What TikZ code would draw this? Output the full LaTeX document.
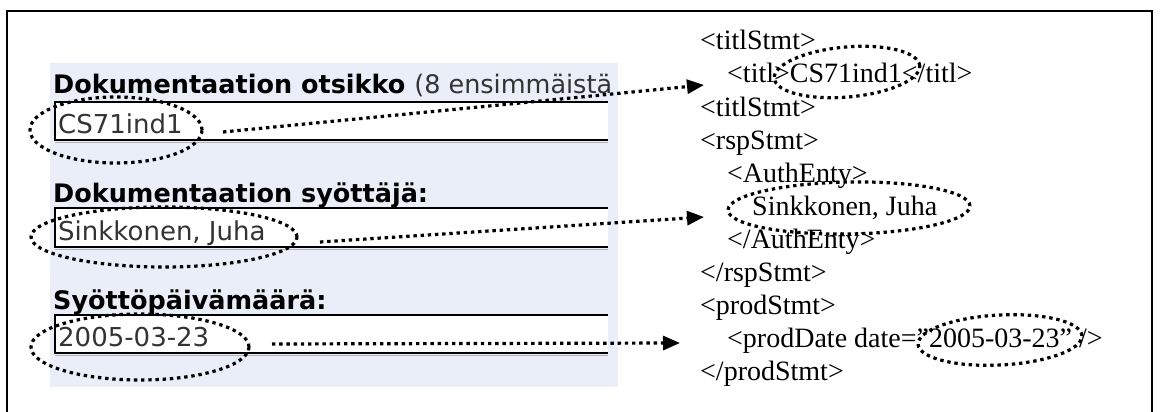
\documentclass[tikz,border=0pt]{standalone}
\usepackage{fontspec}
\setmainfont{Liberation Serif}
\newfontfamily\uifont{DejaVu Sans}
\usetikzlibrary{arrows.meta,shapes.geometric}
\definecolor{panelbg}{RGB}{233,238,248}
\definecolor{fieldtxt}{RGB}{51,51,51}
\begin{document}
\begin{tikzpicture}[x=1pt,y=-1pt,
  hl/.style={ellipse, draw, line width=3.2pt, dash pattern=on 3.4pt off 3.8pt, inner sep=0pt},
  conn/.style={line width=3.2pt, dash pattern=on 3.4pt off 3.8pt, -{Triangle[length=17pt,width=14pt]}},
  lbl/.style={anchor=base west, inner sep=0pt, font=\uifont\bfseries\fontsize{25.5}{30}\selectfont},
  val/.style={anchor=base west, inner sep=0pt, text=fieldtxt, font=\uifont\fontsize{26}{30}\selectfont},
  xml/.style={anchor=base west, inner sep=0pt, font=\fontsize{28}{33}\selectfont},
]
\useasboundingbox (0,0) rectangle (1160,412);
\fill[white] (0,0) rectangle (1160,412);
% outer frame
\draw[line width=2pt] (7,412) -- (7,11) -- (1152,11) -- (1152,412);
% form panel
\fill[panelbg] (50,63) rectangle (618,387);
% input fields
\foreach \t/\b in {102/140, 208/247, 315/353} {
  \fill[white] (55,\t) rectangle (608,\b);
  \draw[gray!60, line width=1pt] (55,\b+2.5) -- (608,\b+2.5);
  \draw[line width=1.6pt] (608,\t) -- (55,\t) -- (55,\b) -- (608,\b);
}
% form labels and values
\node[lbl] (l1) at (53,93) {Dokumentaation otsikko {\mdseries\color{fieldtxt}(8 ensimmäistä}};
\node[val] (v1) at (58,133) {CS71ind1};
\node[lbl] (l2) at (53,202) {Dokumentaation syöttäjä:};
\node[val] (v2) at (58,240) {Sinkkonen, Juha};
\node[lbl] (l3) at (53,309) {Syöttöpäivämäärä:};
\node[val] (v3) at (58,346) {2005-03-23};

% XML listing
\node[xml] (x1)  at (700,50)  {<titlStmt>};
\node[xml] (x2)  at (727,83)  {<titl>CS71ind1</titl>};
\node[xml] (x3)  at (700,116) {<titlStmt>};
\node[xml] (x4)  at (700,149) {<rspStmt>};
\node[xml] (x5)  at (727,182) {<AuthEnty>};
\node[xml] (x6)  at (752,215) {Sinkkonen, Juha};
\node[xml] (x7)  at (727,248) {</AuthEnty>};
\node[xml] (x8)  at (700,281) {</rspStmt>};
\node[xml] (x9)  at (700,314) {<prodStmt>};
\node[xml] (x10) at (727,347) {<prodDate date="2005-03-23” />};
\node[xml] (x11) at (700,380) {</prodStmt>};

% highlight ellipses
\node[hl, minimum width=172pt, minimum height=66pt] (e1) at (116,130) {};
\node[hl, minimum width=266pt, minimum height=60pt] (e2) at (164,237) {};
\node[hl, minimum width=218pt, minimum height=66pt] (e3) at (140,347) {};
\node[hl, minimum width=146pt, minimum height=50pt, rotate=5] (f1) at (847,72) {};
\node[hl, minimum width=242pt, minimum height=52pt, rotate=1] (f2) at (849,208) {};
\node[hl, minimum width=164pt, minimum height=50pt, rotate=3] (f3) at (1000,340) {};

% connectors
\coordinate (s1) at (223,132);
\coordinate (t1) at (704,85);
\coordinate (s2) at (320,242);
\coordinate (t2) at (704,217);
\coordinate (s3) at (272,344);
\coordinate (t3) at (680,343);
\draw[conn] (s1) -- (t1);
\draw[conn] (s2) -- (t2);
\draw[conn] (s3) -- (t3);
\end{tikzpicture}
\end{document}
